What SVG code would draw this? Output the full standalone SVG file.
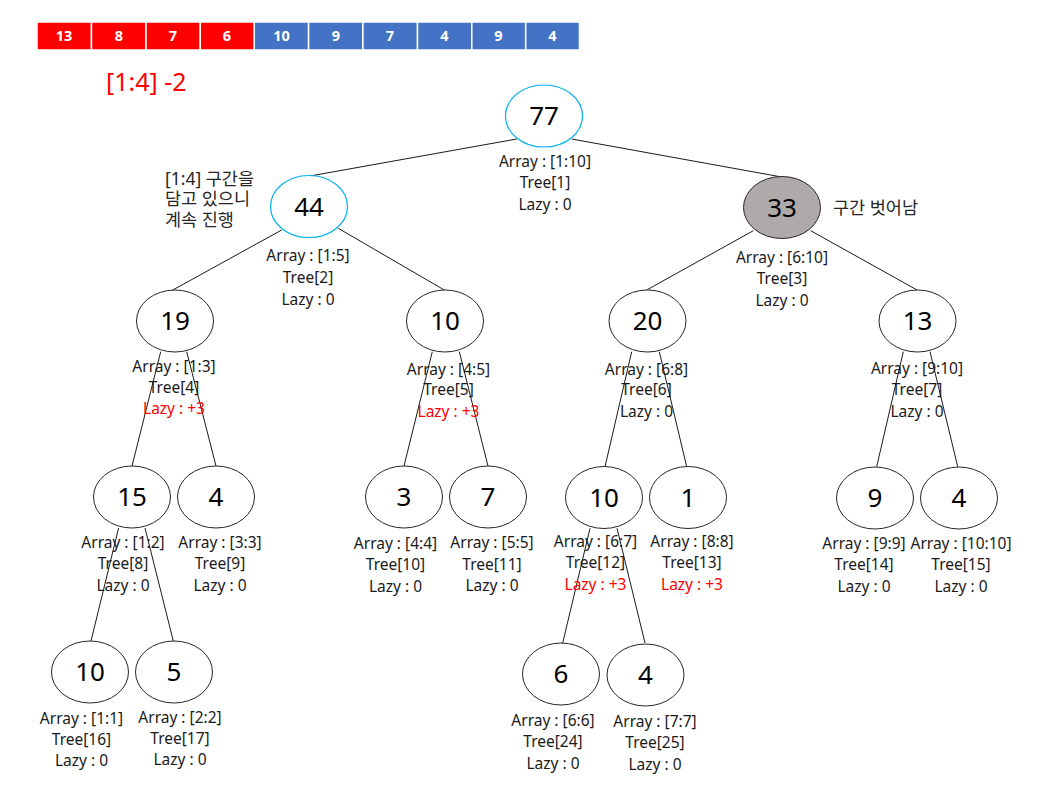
<svg xmlns="http://www.w3.org/2000/svg" width="1059" height="785" viewBox="0 0 1059 785">
<style>
.cell{stroke:#fff;stroke-width:1.5}
.red{fill:#FF0000}
.blue{fill:#4472C4}
.ct{font-family:"Noto Sans","Liberation Sans",sans-serif;font-size:14.5px;font-weight:bold;fill:#fff;text-anchor:middle}
.nd{fill:#fff;stroke:#262626;stroke-width:1}
.hl{stroke:#00B0F0;stroke-width:1.2}
.gr{fill:#AEAAAA}
.num{font-family:"Noto Sans","Liberation Sans",sans-serif;font-size:26px;fill:#000;text-anchor:middle}
.lb{font-family:"Noto Sans","Liberation Sans",sans-serif;font-size:15.5px;fill:#1a1a1a;text-anchor:middle}
.lz{fill:#FF0000}
.kr{font-family:"Noto Sans","Noto Sans CJK KR",sans-serif;font-size:17.5px;fill:#262626}
.cn line{stroke:#1a1a1a;stroke-width:1}
</style>
<rect width="1059" height="785" fill="#fff"/>
<g id="array">
<rect class="cell red" x="37" y="22" width="54.5" height="28"/>
<rect class="cell red" x="91.5" y="22" width="54.5" height="28"/>
<rect class="cell red" x="146" y="22" width="54.3" height="28"/>
<rect class="cell red" x="200.3" y="22" width="54" height="28"/>
<rect class="cell blue" x="254.3" y="22" width="54.3" height="28"/>
<rect class="cell blue" x="308.6" y="22" width="54.3" height="28"/>
<rect class="cell blue" x="362.9" y="22" width="54.6" height="28"/>
<rect class="cell blue" x="417.5" y="22" width="54.3" height="28"/>
<rect class="cell blue" x="471.8" y="22" width="53.9" height="28"/>
<rect class="cell blue" x="525.7" y="22" width="53.8" height="28"/>
<text class="ct" x="64" y="41">13</text>
<text class="ct" x="119" y="41">8</text>
<text class="ct" x="173" y="41">7</text>
<text class="ct" x="227" y="41">6</text>
<text class="ct" x="281.5" y="41">10</text>
<text class="ct" x="336" y="41">9</text>
<text class="ct" x="390" y="41">7</text>
<text class="ct" x="444.5" y="41">4</text>
<text class="ct" x="498.5" y="41">9</text>
<text class="ct" x="552.5" y="41">4</text>
</g>
<text id="op" x="106" y="91" font-family="Noto Sans, Liberation Sans, sans-serif" font-size="25" fill="#FF0000">[1:4] -2</text>
<g id="note44" class="kr">
<text x="165" y="184.5">[1:4] 구간을</text>
<text x="165" y="205">담고 있으니</text>
<text x="165" y="225.5">계속 진행</text>
</g>
<text id="note33" class="kr" x="833" y="213.5">구간 벗어남</text>
<g id="connectors" class="cn">
<line x1="516.7" y1="139" x2="310" y2="176"/>
<line x1="571.7" y1="139" x2="780" y2="176.7"/>
<line x1="281.7" y1="230" x2="171" y2="291"/>
<line x1="338.3" y1="228.3" x2="446" y2="291"/>
<line x1="753.3" y1="230.7" x2="646.7" y2="290"/>
<line x1="810.7" y1="230.7" x2="918.3" y2="290.7"/>
<line x1="160.7" y1="351.7" x2="132" y2="466"/>
<line x1="186.7" y1="351.7" x2="216" y2="466"/>
<line x1="432.3" y1="351.7" x2="404" y2="466"/>
<line x1="459.3" y1="351.7" x2="488" y2="466"/>
<line x1="631.7" y1="351.7" x2="605" y2="466.7"/>
<line x1="659.3" y1="351.7" x2="686.7" y2="466.7"/>
<line x1="903.3" y1="351.7" x2="876.7" y2="466.7"/>
<line x1="930" y1="351.7" x2="957.7" y2="466.7"/>
<line x1="118.6" y1="528" x2="91" y2="641"/>
<line x1="145" y1="528" x2="173.3" y2="641"/>
<line x1="590" y1="528.3" x2="562.7" y2="643"/>
<line x1="617" y1="528.3" x2="645" y2="643"/>
</g>
<g id="n1"><ellipse class="nd hl" cx="544" cy="116" rx="38.5" ry="31"/><text class="num" x="544" y="125.3">77</text>
<text class="lb" x="545" y="166.5">Array : [1:10]</text><text class="lb" x="545" y="187.5">Tree[1]</text><text class="lb" x="545" y="209.5">Lazy : 0</text></g>
<g id="n2"><ellipse class="nd hl" cx="309" cy="206.5" rx="38.5" ry="31"/><text class="num" x="309" y="215.8">44</text>
<text class="lb" x="308" y="260.5">Array : [1:5]</text><text class="lb" x="308" y="282.5">Tree[2]</text><text class="lb" x="308" y="304.5">Lazy : 0</text></g>
<g id="n3"><ellipse class="nd gr" cx="782" cy="207.5" rx="38.5" ry="31"/><text class="num" x="782" y="216.8">33</text>
<text class="lb" x="782" y="262.5">Array : [6:10]</text><text class="lb" x="782" y="283.5">Tree[3]</text><text class="lb" x="782" y="305.5">Lazy : 0</text></g>
<g id="n4"><ellipse class="nd" cx="175" cy="321" rx="38.5" ry="31"/><text class="num" x="175" y="330.3">19</text>
<text class="lb" x="174" y="372">Array : [1:3]</text><text class="lb" x="174" y="392.5">Tree[4]</text><text class="lb lz" x="174" y="414">Lazy : +3</text></g>
<g id="n5"><ellipse class="nd" cx="445" cy="321" rx="38.5" ry="31"/><text class="num" x="445" y="330.3">10</text>
<text class="lb" x="448.5" y="374.5">Array : [4:5]</text><text class="lb" x="448.5" y="395">Tree[5]</text><text class="lb lz" x="448.5" y="417">Lazy : +3</text></g>
<g id="n6"><ellipse class="nd" cx="647.5" cy="321" rx="38.5" ry="31"/><text class="num" x="647.5" y="330.3">20</text>
<text class="lb" x="646.5" y="374.5">Array : [6:8]</text><text class="lb" x="646.5" y="394.5">Tree[6]</text><text class="lb" x="646.5" y="416.5">Lazy : 0</text></g>
<g id="n7"><ellipse class="nd" cx="917.5" cy="321" rx="38.5" ry="31"/><text class="num" x="917.5" y="330.3">13</text>
<text class="lb" x="917" y="374">Array : [9:10]</text><text class="lb" x="917" y="394.5">Tree[7]</text><text class="lb" x="917" y="416.5">Lazy : 0</text></g>
<g id="n8"><ellipse class="nd" cx="132" cy="497" rx="38.5" ry="31"/><text class="num" x="132" y="506.3">15</text>
<text class="lb" x="123" y="547.5">Array : [1:2]</text><text class="lb" x="123" y="568.5">Tree[8]</text><text class="lb" x="123" y="590.5">Lazy : 0</text></g>
<g id="n9"><ellipse class="nd" cx="216" cy="497" rx="38.5" ry="31"/><text class="num" x="216" y="506.3">4</text>
<text class="lb" x="220" y="547.5">Array : [3:3]</text><text class="lb" x="220" y="568.5">Tree[9]</text><text class="lb" x="220" y="590.5">Lazy : 0</text></g>
<g id="n10"><ellipse class="nd" cx="404" cy="497" rx="38.5" ry="31"/><text class="num" x="404" y="506.3">3</text>
<text class="lb" x="395.5" y="548.5">Array : [4:4]</text><text class="lb" x="395.5" y="569.5">Tree[10]</text><text class="lb" x="395.5" y="591.5">Lazy : 0</text></g>
<g id="n11"><ellipse class="nd" cx="488" cy="497" rx="38.5" ry="31"/><text class="num" x="488" y="506.3">7</text>
<text class="lb" x="492" y="547.5">Array : [5:5]</text><text class="lb" x="492" y="569.5">Tree[11]</text><text class="lb" x="492" y="590.5">Lazy : 0</text></g>
<g id="n12"><ellipse class="nd" cx="604" cy="497.5" rx="38.5" ry="31"/><text class="num" x="604" y="506.8">10</text>
<text class="lb" x="595.5" y="547">Array : [6:7]</text><text class="lb" x="595.5" y="568">Tree[12]</text><text class="lb lz" x="595.5" y="589.5">Lazy : +3</text></g>
<g id="n13"><ellipse class="nd" cx="688" cy="497.5" rx="38.5" ry="31"/><text class="num" x="688" y="506.8">1</text>
<text class="lb" x="692" y="546.5">Array : [8:8]</text><text class="lb" x="692" y="567.5">Tree[13]</text><text class="lb lz" x="692" y="589.5">Lazy : +3</text></g>
<g id="n14"><ellipse class="nd" cx="875" cy="498" rx="38.5" ry="31"/><text class="num" x="875" y="507.3">9</text>
<text class="lb" x="864" y="549">Array : [9:9]</text><text class="lb" x="864" y="570">Tree[14]</text><text class="lb" x="864" y="592">Lazy : 0</text></g>
<g id="n15"><ellipse class="nd" cx="959" cy="498" rx="38.5" ry="31"/><text class="num" x="959" y="507.3">4</text>
<text class="lb" x="961" y="549">Array : [10:10]</text><text class="lb" x="961" y="570">Tree[15]</text><text class="lb" x="961" y="592">Lazy : 0</text></g>
<g id="n16"><ellipse class="nd" cx="90" cy="672" rx="38.5" ry="31"/><text class="num" x="90" y="681.3">10</text>
<text class="lb" x="81.5" y="723.5">Array : [1:1]</text><text class="lb" x="81.5" y="744.5">Tree[16]</text><text class="lb" x="81.5" y="765.5">Lazy : 0</text></g>
<g id="n17"><ellipse class="nd" cx="174" cy="672" rx="38.5" ry="31"/><text class="num" x="174" y="681.3">5</text>
<text class="lb" x="180" y="723">Array : [2:2]</text><text class="lb" x="180" y="743.5">Tree[17]</text><text class="lb" x="180" y="765">Lazy : 0</text></g>
<g id="n24"><ellipse class="nd" cx="561" cy="674" rx="38.5" ry="31"/><text class="num" x="561" y="683.3">6</text>
<text class="lb" x="553" y="725.5">Array : [6:6]</text><text class="lb" x="553" y="747">Tree[24]</text><text class="lb" x="553" y="768.5">Lazy : 0</text></g>
<g id="n25"><ellipse class="nd" cx="645.5" cy="675" rx="38.5" ry="31"/><text class="num" x="645.5" y="684.3">4</text>
<text class="lb" x="655" y="726.5">Array : [7:7]</text><text class="lb" x="655" y="747.5">Tree[25]</text><text class="lb" x="655" y="769.5">Lazy : 0</text></g>
</svg>
